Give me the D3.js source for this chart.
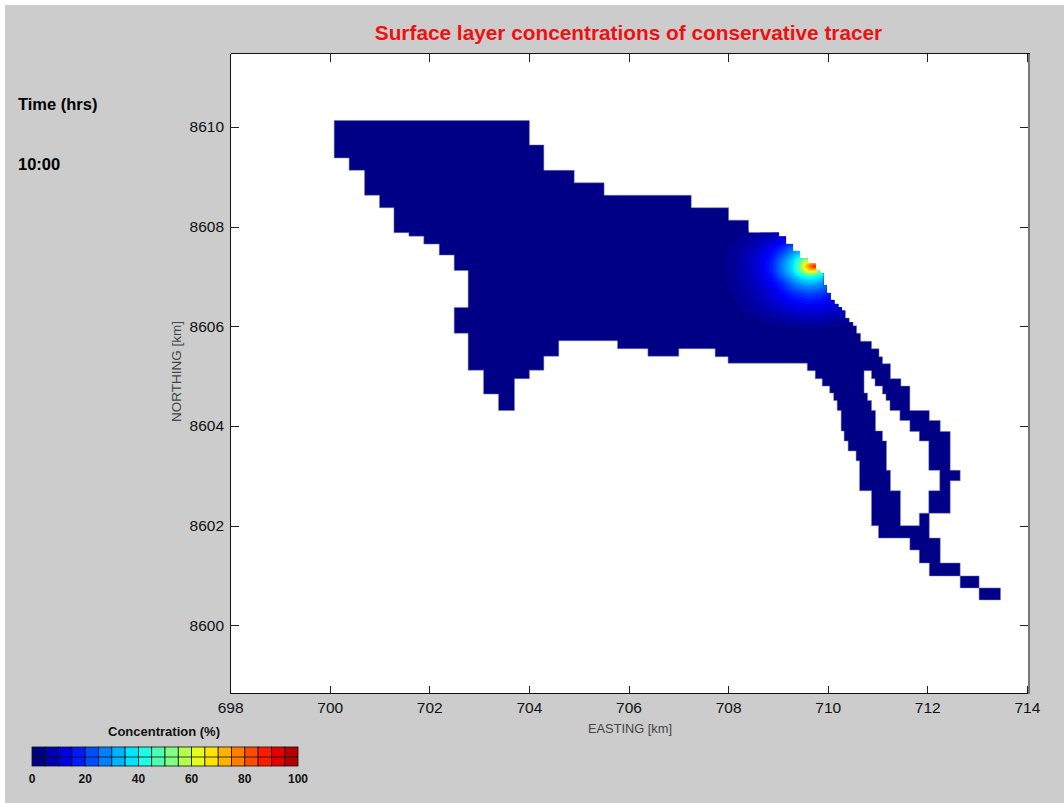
<!DOCTYPE html>
<html><head><meta charset="utf-8">
<script src="https://cdn.jsdelivr.net/npm/d3@7"></script>
<style>
html,body{margin:0;padding:0;background:#fff;overflow:hidden}
svg{display:block}
text{font-family:"Liberation Sans",Arial,sans-serif}
</style></head><body><div id="chart"></div>
<script>
// ---------- data ----------
const titleText = "Surface layer concentrations of conservative tracer";
const timeLabel = "Time (hrs)";
const timeValue = "10:00";
const eastingTicks = [698,700,702,704,706,708,710,712,714];
const northingTicks = [8600,8602,8604,8606,8608,8610];
const legendBins = [0,5,10,15,20,25,30,35,40,45,50,55,60,65,70,75,80,85,90,95];
const legendTicks = [0,20,40,60,80,100];

// wet-cell outline, [easting km, northing km]
const coastline = [[700.09,8610.13],[704.01,8610.13],[704.01,8609.64],[704.30,8609.64],[704.30,8609.13],[704.91,8609.13],[704.91,8608.88],[705.51,8608.88],[705.51,8608.63],[707.26,8608.63],[707.26,8608.38],[708.01,8608.38],[708.01,8608.13],[708.41,8608.13],[708.41,8607.88],[709.02,8607.88],[709.02,8607.80],[709.16,8607.80],[709.16,8607.65],[709.30,8607.65],[709.30,8607.51],[709.44,8607.51],[709.44,8607.36],[709.59,8607.36],[709.59,8607.26],[709.76,8607.26],[709.76,8607.13],[709.83,8607.13],[709.83,8607.06],[709.91,8607.06],[709.91,8606.82],[709.98,8606.82],[709.98,8606.67],[710.05,8606.67],[710.05,8606.53],[710.13,8606.53],[710.13,8606.45],[710.21,8606.45],[710.21,8606.38],[710.28,8606.38],[710.28,8606.31],[710.35,8606.31],[710.35,8606.16],[710.43,8606.16],[710.43,8606.08],[710.51,8606.08],[710.51,8606.01],[710.58,8606.01],[710.58,8605.86],[710.66,8605.86],[710.66,8605.70],[710.88,8605.70],[710.88,8605.55],[711.03,8605.55],[711.03,8605.39],[711.10,8605.39],[711.10,8605.25],[711.26,8605.25],[711.26,8604.95],[711.47,8604.95],[711.47,8604.80],[711.65,8604.80],[711.65,8604.31],[712.04,8604.31],[712.04,8604.11],[712.26,8604.11],[712.26,8603.89],[712.46,8603.89],[712.46,8603.11],[712.66,8603.11],[712.66,8602.90],[712.46,8602.90],[712.46,8602.25],[712.04,8602.25],[712.04,8601.75],[712.26,8601.75],[712.26,8601.25],[712.66,8601.25],[712.66,8600.99],[713.04,8600.99],[713.04,8600.75],[713.47,8600.75],[713.47,8600.51],[713.04,8600.51],[713.04,8600.75],[712.66,8600.75],[712.66,8600.99],[712.04,8600.99],[712.04,8601.25],[711.84,8601.25],[711.84,8601.51],[711.65,8601.51],[711.65,8601.75],[711.02,8601.75],[711.02,8602.00],[710.88,8602.00],[710.88,8602.70],[710.64,8602.70],[710.64,8603.30],[710.57,8603.30],[710.57,8603.50],[710.41,8603.50],[710.41,8603.70],[710.33,8603.70],[710.33,8603.90],[710.27,8603.90],[710.27,8604.31],[710.19,8604.31],[710.19,8604.51],[710.12,8604.51],[710.12,8604.66],[710.04,8604.66],[710.04,8604.80],[709.89,8604.80],[709.89,8604.95],[709.75,8604.95],[709.75,8605.11],[709.59,8605.11],[709.59,8605.26],[708.00,8605.26],[708.00,8605.39],[707.74,8605.39],[707.74,8605.55],[707.01,8605.55],[707.01,8605.40],[706.39,8605.40],[706.39,8605.55],[705.78,8605.55],[705.78,8605.71],[704.60,8605.71],[704.60,8605.40],[704.30,8605.40],[704.30,8605.12],[704.01,8605.12],[704.01,8604.95],[703.71,8604.95],[703.71,8604.31],[703.39,8604.31],[703.39,8604.64],[703.09,8604.64],[703.09,8605.12],[702.78,8605.12],[702.78,8605.86],[702.50,8605.86],[702.50,8606.38],[702.78,8606.38],[702.78,8607.12],[702.50,8607.12],[702.50,8607.43],[702.20,8607.43],[702.20,8607.65],[701.89,8607.65],[701.89,8607.81],[701.59,8607.81],[701.59,8607.88],[701.29,8607.88],[701.29,8608.38],[701.00,8608.38],[701.00,8608.63],[700.70,8608.63],[700.70,8609.13],[700.39,8609.13],[700.39,8609.38],[700.09,8609.38]];

// dry island inside the channel
const island = [[710.73,8605.11],[710.88,8605.11],[710.88,8604.95],[710.95,8604.95],[710.95,8604.80],[711.10,8604.80],[711.10,8604.64],[711.17,8604.64],[711.17,8604.51],[711.25,8604.51],[711.25,8604.31],[711.45,8604.31],[711.45,8604.11],[711.65,8604.11],[711.65,8603.89],[711.84,8603.89],[711.84,8603.70],[712.03,8603.70],[712.03,8603.11],[712.25,8603.11],[712.25,8602.70],[712.03,8602.70],[712.03,8602.25],[711.84,8602.25],[711.84,8602.00],[711.46,8602.00],[711.46,8602.70],[711.26,8602.70],[711.26,8603.11],[711.18,8603.11],[711.18,8603.70],[711.10,8603.70],[711.10,8603.90],[710.96,8603.90],[710.96,8604.31],[710.88,8604.31],[710.88,8604.51],[710.80,8604.51],[710.80,8604.66],[710.73,8604.66]];

// concentration (%) read at sample stations around the plume
const plumeEasting = [707.8,708.0,708.3,708.6,708.9,709.1,709.3,709.45,709.55,709.65,709.75,709.85,710.0,710.2,710.5];
const plumeNorthing = [8607.95,8607.75,8607.55,8607.4,8607.3,8607.2,8607.1,8607.0,8606.85,8606.65,8606.4,8606.15,8605.95,8605.75];
const plumeValues = [
 [0,0,0.8,2.2,3.4,4.2,5.5,5.8,6,6,6,5.8,5.5,4.2,2],
 [0,0.5,2.3,4.2,7.5,9.5,11.8,13,13.5,13.5,13.5,13,11.8,9.5,6.3],
 [0.4,1.5,3.5,7,12.5,17,24,28,29.5,30,29.5,28,24,17,10.5],
 [0.5,1.8,3.8,8,14.5,22,30.5,37,41,45,45,40,30.5,22,12],
 [0.5,1.9,4,8.4,16,25,34,47,58,68,66,50,34,25,13],
 [0.5,2,4.1,8.7,16,26,35,50,68,78,88,58,35,26,13],
 [0.5,1.9,4,8.4,16,25,34,46,56,64,60,47,34,25,13],
 [0.5,1.8,3.8,7.8,14.5,22,30,36,38.5,40,38.5,36,30,22,12],
 [0.4,1.5,3.4,6.9,12,16.7,23.5,27,28.5,29,28.5,27,23.5,16.7,10],
 [0.1,1,2.9,5.6,9.2,12.6,15.8,17.5,18.3,19,18.3,17.5,15.8,12.6,8],
 [0,0.4,1.9,3.7,6.3,8,9.5,10.5,11,11,11,10.5,9.5,8,5.5],
 [0,0,0.5,1.8,2.9,3.6,4.2,4.8,5,5,5,4.8,4.2,3.6,2.5],
 [0,0,0,0,0.4,0.7,1.1,1.2,1.3,1.3,1.3,1.2,1.1,0.7,0.2],
 [0,0,0,0,0,0,0,0,0,0,0,0,0,0,0]
];

// ---------- layout ----------
const W = 1064, H = 803;
const box = {left:230.5, right:1028.5, top:53.5, bottom:693.5};
const x = d3.scaleLinear().domain([698,714]).range([230.1,1026.9]);
const y = d3.scaleLinear().domain([8600,8610]).range([625.3,127]);

const jet = t => {
  const c = v => Math.round(255*Math.max(0,Math.min(1,v)));
  return d3.rgb(c(1.5-Math.abs(4*t-3)), c(1.5-Math.abs(4*t-2)), c(1.5-Math.abs(4*t-1))).formatHex();
};
const nLevels = 64;

const svg = d3.select("#chart").append("svg").attr("width",W).attr("height",H);
svg.append("rect").attr("x",5).attr("y",5).attr("width",W-5).attr("height",H-5).attr("fill","#cccccc");
svg.append("rect").attr("x",box.left).attr("y",box.top)
   .attr("width",box.right-box.left).attr("height",box.bottom-box.top).attr("fill","#fff");

// ---------- domain ----------
const line = d3.line().x(d=>x(d[0])).y(d=>y(d[1]));
const domainPath = line(coastline)+"Z"+line(island)+"Z";
svg.append("clipPath").attr("id","wet").append("path").attr("d",domainPath).attr("clip-rule","evenodd");
svg.append("path").attr("d",domainPath).attr("fill-rule","evenodd")
   .attr("fill",jet(0.5/nLevels)).attr("stroke","#7878b8").attr("stroke-width",0.5);

// ---------- plume: table resampled, then banded with d3.contours ----------
const step = 0.02;
const e0 = plumeEasting[0], e1 = plumeEasting[plumeEasting.length-1];
const n0 = plumeNorthing[0], n1 = plumeNorthing[plumeNorthing.length-1];
const cols = Math.round((e1-e0)/step)+1, rows = Math.round((n0-n1)/step)+1;
const bisE = d3.bisector(d=>d).right, bisN = d3.bisector(d=>-d).right;
const lookup = (e,n)=>{
  const i = Math.max(0,Math.min(plumeEasting.length-2,bisE(plumeEasting,e)-1));
  const j = Math.max(0,Math.min(plumeNorthing.length-2,bisN(plumeNorthing,-n)-1));
  const fx = (e-plumeEasting[i])/(plumeEasting[i+1]-plumeEasting[i]);
  const fy = (n-plumeNorthing[j])/(plumeNorthing[j+1]-plumeNorthing[j]);
  const v = plumeValues;
  return (1-fy)*((1-fx)*v[j][i]+fx*v[j][i+1])+fy*((1-fx)*v[j+1][i]+fx*v[j+1][i+1]);
};
const field = new Float64Array(cols*rows);
for(let r=0;r<rows;r++) for(let c=0;c<cols;c++) field[r*cols+c]=lookup(e0+c*step,n0-r*step);
const levels = d3.range(1,nLevels).map(k=>k*100/nLevels);
const bands = d3.contours().size([cols,rows]).thresholds(levels)(field);
const proj = d3.geoPath(d3.geoTransform({point(a,b){
  this.stream.point(x(e0+(a-0.5)*step), y(n0-(b-0.5)*step));
}}));
svg.append("g").attr("clip-path","url(#wet)").selectAll("path").data(bands).join("path")
   .attr("d",proj).attr("fill",d=>jet((d.value/100)+0.5/nLevels));

// ---------- axes ----------
const styleAxis = g => { g.select(".domain").remove();
  g.selectAll("line").attr("stroke","#222").attr("shape-rendering","crispEdges");
  g.selectAll("text").attr("font-size",15.5).attr("fill","#111")
   .attr("font-family","'Liberation Sans',Arial,sans-serif"); };
svg.append("g").attr("transform",`translate(0,${box.bottom})`)
   .call(d3.axisBottom(x).tickValues(eastingTicks).tickFormat(d3.format("d")).tickSizeInner(-8).tickSizeOuter(0).tickPadding(8.5)).call(styleAxis);
svg.append("g").attr("transform",`translate(0,${box.top})`)
   .call(d3.axisTop(x).tickValues(eastingTicks).tickFormat("").tickSizeInner(-8).tickSizeOuter(0)).call(styleAxis);
svg.append("g").attr("transform",`translate(${box.left},0)`)
   .call(d3.axisLeft(y).tickValues(northingTicks).tickFormat(d3.format("d")).tickSizeInner(-8).tickSizeOuter(0).tickPadding(6.5)).call(styleAxis);
svg.append("g").attr("transform",`translate(${box.right-1},0)`)
   .call(d3.axisRight(y).tickValues(northingTicks).tickFormat("").tickSizeInner(-8).tickSizeOuter(0)).call(styleAxis);

const border = svg.append("g").attr("shape-rendering","crispEdges");
border.append("line").attr("x1",box.left).attr("x2",box.right+1).attr("y1",box.top).attr("y2",box.top).attr("stroke","#111");
border.append("line").attr("x1",box.left).attr("x2",box.right+1).attr("y1",box.bottom).attr("y2",box.bottom).attr("stroke","#111");
border.append("line").attr("x1",box.left).attr("x2",box.left).attr("y1",box.top).attr("y2",box.bottom).attr("stroke","#111");
border.append("line").attr("x1",box.right).attr("x2",box.right).attr("y1",box.top).attr("y2",box.bottom).attr("stroke","#777").attr("stroke-width",2);

// ---------- texts ----------
svg.append("text").attr("x",628.5).attr("y",40).attr("text-anchor","middle")
   .attr("font-size",20.8).attr("font-weight","bold").attr("fill","#ee1111").text(titleText);
svg.append("text").attr("x",18).attr("y",110).attr("font-size",16.5).attr("font-weight","bold").attr("fill","#000").text(timeLabel);
svg.append("text").attr("x",18).attr("y",170).attr("font-size",16.5).attr("font-weight","bold").attr("fill","#000").text(timeValue);
svg.append("text").attr("x",630).attr("y",733).attr("text-anchor","middle").attr("font-size",12.8).attr("fill","#444").text("EASTING [km]");
svg.append("text").attr("transform","translate(181,371.5) rotate(-90)").attr("text-anchor","middle").attr("font-size",13.5).attr("fill","#444").text("NORTHING [km]");

// ---------- legend ----------
const lx = d3.scaleLinear().domain([0,100]).range([32,298]);
const ly = {top:747,mid:757,bottom:766};
const lg = svg.append("g");
lg.selectAll("rect").data(legendBins).join("rect")
  .attr("x",d=>lx(d)).attr("y",ly.top).attr("width",lx(5)-lx(0)).attr("height",ly.bottom-ly.top)
  .attr("fill",d=>jet(d/100)).attr("stroke","#111").attr("stroke-width",0.8);
lg.append("line").attr("x1",lx(0)).attr("x2",lx(100)).attr("y1",ly.mid).attr("y2",ly.mid).attr("stroke","#111").attr("stroke-width",0.8);
lg.selectAll("text.t").data(legendTicks).join("text").attr("class","t")
  .attr("x",d=>lx(d)).attr("y",782.5).attr("text-anchor","middle").attr("font-size",12).attr("font-weight","bold").attr("fill","#111").text(d=>d);
lg.append("text").attr("x",164).attr("y",736).attr("text-anchor","middle").attr("font-size",13).attr("font-weight","bold").attr("fill","#111").text("Concentration (%)");
</script></body></html>
